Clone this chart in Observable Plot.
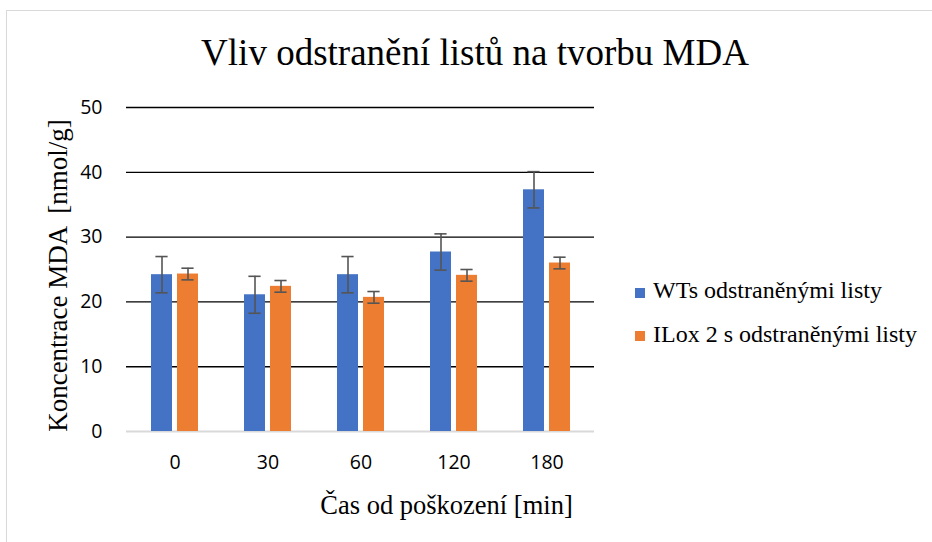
<!DOCTYPE html>
<html><head><meta charset="utf-8">
<script src="https://cdn.jsdelivr.net/npm/d3@7"></script>
<script src="https://cdn.jsdelivr.net/npm/@observablehq/plot@0.6"></script>
<style>
html,body{margin:0;padding:0;background:#fff;overflow:hidden;}
#wrap{position:relative;width:932px;height:542px;overflow:hidden;background:#fff;}
#frame{position:absolute;left:6px;top:10px;width:1000px;height:1000px;border-top:1.5px solid #d9d9d9;border-left:1.5px solid #d9d9d9;}
.layer{position:absolute;left:0;top:0;}
.t{position:absolute;font-family:"Liberation Serif","Times New Roman",serif;color:#000;white-space:pre;}
.sw{position:absolute;width:10px;height:10px;}
</style>
</head>
<body>
<div id="wrap">
  <div id="frame"></div>
  <div id="grid" class="layer"></div>
  <div id="bars" class="layer"></div>
  <div class="t" id="title" style="left:0;width:950px;text-align:center;font-size:37px;line-height:37px;top:34px;">Vliv odstranění listů na tvorbu MDA</div>
  <div class="t" id="ylab" style="left:-142.4px;width:400px;text-align:center;font-size:27px;line-height:27px;top:261.5px;transform:rotate(-90deg);">Koncentrace MDA  [nmol/g]</div>
  <div class="t" id="xlab" style="left:246.5px;width:400px;text-align:center;font-size:26.5px;line-height:26.5px;top:491.8px;">Čas od poškození [min]</div>
  <div id="legend"></div>
</div>
<script>
const times = ["0", "30", "60", "120", "180"];
const series = ["WTs odstraněnými listy", "ILox 2 s odstraněnými listy"];
const wtValues = [24.2, 21.1, 24.2, 27.7, 37.3];
const wtErrors = [2.8, 2.85, 2.8, 2.8, 2.8];
const iloxValues = [24.3, 22.4, 20.7, 24.1, 26.0];
const iloxErrors = [0.9, 0.9, 0.9, 0.9, 0.9];
const yTicks = [0, 10, 20, 30, 40, 50];
const colors = ["#4472C4", "#ED7D31"];

const rows = times.flatMap((t, i) => [
  {time: t, series: series[0], value: wtValues[i], err: wtErrors[i]},
  {time: t, series: series[1], value: iloxValues[i], err: iloxErrors[i]}
]);

const common = {
  width: 932,
  height: 542,
  marginLeft: 126,
  marginRight: 338,
  marginTop: 107,
  marginBottom: 111,
  style: {fontFamily: "'Open Sans', sans-serif", fontSize: "19.5px", color: "#000", background: "transparent"}
};

// background layer: gridlines, zero line and value axis across the whole frame
const gridPlot = Plot.plot({
  ...common,
  y: {domain: [0, 50], ticks: yTicks, tickSize: 0, tickPadding: 24, label: null},
  marks: [
    Plot.ruleY(yTicks.filter(d => d > 0), {stroke: "#000", strokeWidth: 1.35}),
    Plot.ruleY([0], {stroke: "#d9d9d9", strokeWidth: 2})
  ]
});
document.getElementById("grid").appendChild(gridPlot);

const errStyle = {stroke: "#555", strokeWidth: 1.6};

// foreground layer: grouped bars with error bars, faceted by time
const barPlot = Plot.plot({
  ...common,
  fx: {domain: times, paddingInner: 0.5, paddingOuter: 0.25, axis: "bottom", label: null, tickSize: 0, tickPadding: 24},
  x: {domain: series, paddingInner: 0.2, paddingOuter: 0, axis: null},
  y: {domain: [0, 50], axis: null},
  color: {domain: series, range: colors},
  marks: [
    Plot.barY(rows, {fx: "time", x: "series", y: "value", fill: "series"}),
    Plot.ruleX(rows, {fx: "time", x: "series", y1: d => d.value - d.err, y2: d => d.value + d.err, ...errStyle}),
    Plot.tickY(rows, {fx: "time", x: "series", y: d => d.value + d.err, insetLeft: 4.4, insetRight: 4.4, ...errStyle}),
    Plot.tickY(rows, {fx: "time", x: "series", y: d => d.value - d.err, insetLeft: 4.4, insetRight: 4.4, ...errStyle})
  ]
});
document.getElementById("bars").appendChild(barPlot);

// legend
const legend = document.getElementById("legend");
const legendTop = [278.2, 321.6];
series.forEach((s, i) => {
  const sw = document.createElement("div");
  sw.className = "sw";
  sw.style.left = "635px";
  sw.style.top = (legendTop[i] + 9.8) + "px";
  sw.style.background = colors[i];
  legend.appendChild(sw);
  const tx = document.createElement("div");
  tx.className = "t";
  tx.style.left = "653px";
  tx.style.top = legendTop[i] + "px";
  tx.style.fontSize = "24px";
  tx.style.lineHeight = "24px";
  tx.textContent = s;
  legend.appendChild(tx);
});
</script>
</body></html>
